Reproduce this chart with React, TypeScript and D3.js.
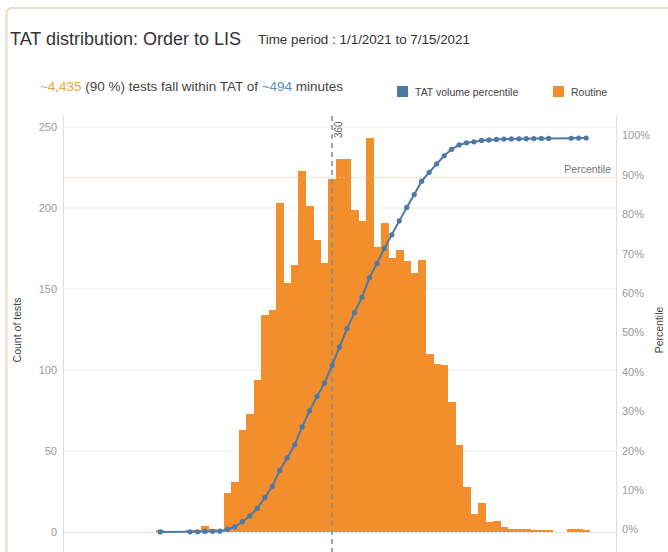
import React from "react";
import * as d3 from "d3";

// Bin centres (minutes) of the TAT histogram
const binCenters = [
  130, 170, 180, 190, 200, 210,
  220, 230, 240, 250, 260, 270, 280, 290, 300, 310, 320, 330, 340, 350,
  360, 370, 380, 390, 400, 410, 420, 430, 440, 450, 460, 470, 480, 490,
  500, 510, 520, 530, 540, 550, 560, 570, 580, 590, 600, 610, 620, 630,
  640, 650, 680, 690, 700,
];
// Routine: count of tests per bin
const routineCounts = [
  1, 1, 1, 4, 2, 1,
  24, 31, 63, 73, 94, 134, 137, 203, 154, 165, 223, 201, 180, 166,
  218, 230, 230, 199, 192, 243, 176, 191, 169, 174, 167, 160, 168, 110,
  104, 103, 80, 54, 28, 11, 18, 6, 7, 3, 2, 2, 2, 1,
  1, 1, 2, 2, 1,
];
// TAT volume percentile (%), one per bin
const percentile = [
  0.02, 0.04, 0.06, 0.14, 0.18, 0.2,
  0.69, 1.32, 2.61, 4.09, 6.0, 8.73, 11.52, 15.65, 18.79, 22.15, 26.68, 30.78, 34.44, 37.82,
  42.26, 46.94, 51.62, 55.67, 59.58, 64.52, 68.11, 71.99, 75.43, 78.97, 82.37, 85.63, 89.05, 91.29,
  93.41, 95.5, 97.13, 98.23, 98.8, 99.02, 99.39, 99.51, 99.65, 99.72, 99.76, 99.8, 99.84, 99.86,
  99.88, 99.9, 99.94, 99.98, 100,
];
const countTicks = [0, 50, 100, 150, 200, 250];
const percentTicks = [0, 10, 20, 30, 40, 50, 60, 70, 80, 90, 100];
const binWidth = 10;
const medianMarker = 360;
const percentileRef = 90;

const FONT = "'Liberation Sans', Arial, Helvetica, sans-serif";
const ORANGE = "#f28e2b";
const BLUE = "#4e79a7";

export default function App() {
  const x = d3.scaleLinear().domain([0, 740]).range([63, 616]);
  const yL = d3.scaleLinear().domain([0, 250]).range([532, 127]);
  const yR = d3.scaleLinear().domain([0, 100]).range([532, 138]);

  const pts = binCenters.map((c, i) => [x(c), yR(percentile[i])] as [number, number]);
  const line = d3.line()(pts) || "";

  return (
    <svg
      width={668}
      height={552}
      style={{ position: "absolute", left: 0, top: 0, background: "#fff" }}
      fontFamily={FONT}
    >
      {/* panel frame */}
      <path d="M6.5,552 L6.5,14 Q6.5,8 12.5,8 L668,8" fill="none" stroke="#e6dccb" strokeWidth={2} />

      {/* titles */}
      <text x={10} y={45} fontSize={18} fill="#333">TAT distribution: Order to LIS</text>
      <text x={258} y={44} fontSize={13} fill="#333" textLength={212} lengthAdjust="spacingAndGlyphs">
        Time period : 1/1/2021 to 7/15/2021
      </text>
      <text x={40} y={91} fontSize={13} fill="#444" textLength={303} lengthAdjust="spacingAndGlyphs">
        <tspan fill="#e9a53c">~4,435</tspan>
        <tspan> (90 %) tests fall within TAT of </tspan>
        <tspan fill="#5b8cc4">~494</tspan>
        <tspan> minutes</tspan>
      </text>

      {/* legend */}
      <rect x={397} y={86} width={11} height={11} fill={BLUE} />
      <text x={415} y={95.5} fontSize={10.5} fill="#444">TAT volume percentile</text>
      <rect x={553} y={86} width={11} height={11} fill={ORANGE} />
      <text x={571} y={95.5} fontSize={10.5} fill="#444">Routine</text>

      {/* gridlines */}
      {countTicks.filter((t) => t > 0).map((t) => (
        <line key={"g" + t} x1={63} x2={616} y1={yL(t)} y2={yL(t)} stroke="#efefef" strokeWidth={1} />
      ))}
      <line x1={63} x2={616} y1={yL(0) + 0.5} y2={yL(0) + 0.5} stroke="#ccc" strokeWidth={1} strokeDasharray="2,2" />

      {/* axes lines */}
      <line x1={63.5} x2={63.5} y1={116} y2={552} stroke="#ddd" strokeWidth={1} />
      <line x1={616.5} x2={616.5} y1={116} y2={552} stroke="#ddd" strokeWidth={1} />

      {/* left tick labels */}
      {countTicks.map((t) => (
        <text key={"l" + t} x={57} y={yL(t)} dy="0.35em" fontSize={11} fill="#9a9a9a" textAnchor="end">
          {t}
        </text>
      ))}
      <text
        transform={`translate(21,330) rotate(-90)`}
        fontSize={10.5}
        fill="#444"
        textAnchor="middle"
      >
        Count of tests
      </text>

      {/* right tick labels */}
      {percentTicks.map((t) => (
        <text key={"r" + t} x={622} y={yR(t) - 2.5} dy="0.35em" fontSize={11} fill="#9a9a9a">
          {t}%
        </text>
      ))}
      <text
        transform={`translate(663,330) rotate(-90)`}
        fontSize={10.5}
        fill="#444"
        textAnchor="middle"
      >
        Percentile
      </text>

      {/* histogram bars */}
      <g shapeRendering="crispEdges">
        {binCenters.map((c, i) => (
          <rect
            key={"b" + c}
            x={x(c - binWidth / 2)}
            width={x(c + binWidth / 2) - x(c - binWidth / 2) + 0.6}
            y={yL(routineCounts[i])}
            height={yL(0) - yL(routineCounts[i])}
            fill={ORANGE}
          />
        ))}
      </g>

      {/* 90% percentile reference */}
      <line
        x1={63}
        x2={616}
        y1={yR(percentileRef)}
        y2={yR(percentileRef)}
        stroke="#f3b47c"
        strokeWidth={1}
        strokeDasharray="2,2"
        opacity={0.7}
      />
      <text x={611} y={yR(percentileRef) - 4} fontSize={10.5} fill="#777" textAnchor="end">
        Percentile
      </text>

      {/* median marker */}
      <line
        x1={x(medianMarker)}
        x2={x(medianMarker)}
        y1={116}
        y2={552}
        stroke="#8a8a8a"
        strokeWidth={1.5}
        strokeDasharray="5,4"
      />
      <text
        transform={`translate(${x(medianMarker) + 10},138) rotate(-90)`}
        fontSize={10}
        fill="#666"
      >
        {medianMarker}
      </text>

      {/* percentile line */}
      <path d={line} fill="none" stroke={BLUE} strokeWidth={2} />
      {pts.map((p, i) => (
        <circle key={"p" + i} cx={p[0]} cy={p[1]} r={2.6} fill={BLUE} />
      ))}
    </svg>
  );
}
